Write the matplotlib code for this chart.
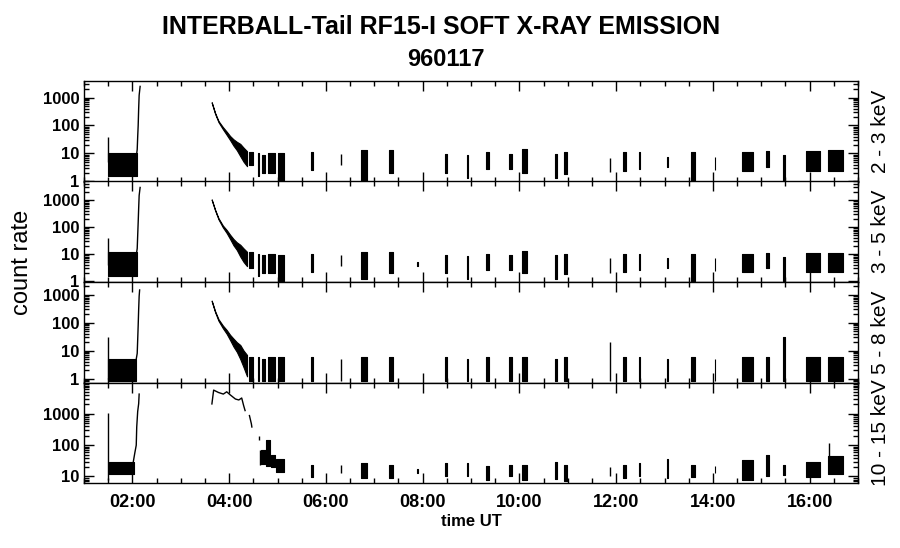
"""
INTERBALL-Tail RF15-I soft X-ray count rate, 960117 — four energy channels.
"""
import matplotlib
matplotlib.use('Agg')
import matplotlib.pyplot as plt
import matplotlib.ticker as mticker

FONT = ['Liberation Sans Narrow', 'Liberation Sans', 'DejaVu Sans']
plt.rcParams['font.family'] = FONT

channels = ['2 - 3 keV', '3 - 5 keV', '5 - 8 keV', '10 - 15 keV']
ylims = [(0.99, 3900), (0.9, 5000), (0.72, 2900), (6.2, 10000)]
ymajor = [[1, 10, 100, 1000], [1, 10, 100, 1000], [1, 10, 100, 1000], [10, 100, 1000]]

# telemetry bursts (hours UT), shared by all channels
burst_t0 = [4.42, 4.60, 4.68, 4.80, 5.00, 5.70, 6.32, 6.73, 7.31, 7.88, 8.47, 8.91, 9.30, 9.78,
            10.05, 10.73, 10.92, 11.88, 12.14, 12.47, 13.05, 13.55, 14.04, 14.60, 15.10,
            15.45, 15.93, 16.38]
burst_t1 = [4.50, 4.61, 4.74, 4.95, 5.14, 5.73, 6.33, 6.84, 7.38, 7.90, 8.50, 8.93, 9.37, 9.84,
            10.16, 10.77, 10.99, 11.89, 12.21, 12.49, 13.07, 13.64, 14.05, 14.83, 15.16,
            15.49, 16.21, 16.70]

# per-channel burst envelopes (None = no data)
p1_lo = [4, 1.5, 2, 2, 1, 2.6, 3.8, 1, 2, None, 2, 1.3, 2.8, 2.8, 2, 1.3, 1.9, 2.1, 2.4, 2.8,
         3.2, 1, 2.6, 2.4, 3.2, 1, 2.4, 2.4]
p1_hi = [11, 10, 9, 10, 10, 11, 9.7, 13, 13, None, 9.4, 8.7, 11, 9.4, 14, 9.4, 11, 7, 11, 11,
         7.4, 11, 7.4, 11, 12, 8.7, 12, 13]
p2_lo = [3, 1.5, 2, 2, 1, 2.2, 3.5, 1.2, 2, 3.5, 2, 1.2, 2.5, 2.5, 2, 1.2, 1.8, 2, 2.2, 2.5,
         3, 1, 2.4, 2.2, 3, 1, 2.2, 2.2]
p2_hi = [12, 10, 9, 10, 9, 10, 9, 12, 12, 5, 9, 8.5, 10, 9, 13, 9, 10, 7, 10, 10,
         7, 10, 7, 10, 11, 8, 11, 11]
p3_lo = [0.8, 0.8, 0.8, 0.8, 0.8, 0.8, 0.8, 0.8, 0.8, None, 0.8, 0.8, 0.8, 0.8, 0.8, 0.8, 0.8,
         0.8, 0.8, 0.8, 0.8, 0.8, 0.8, 0.8, 0.8, 0.8, 0.8, 0.8]
p3_hi = [6, 6, 5, 6, 6, 6, 5, 6, 6, None, 6, 5, 6, 6, 6, 5, 6, 20, 6, 6, 5, 6, 5, 6, 6, 30, 6, 6]
p4_lo = [None, None, None, None, None, 9.5, 13, 9, 9, 13.4, 10, 10.5, 8, 10, 8, 8.3, 7, 10, 9,
         10, 9, 9.5, 13, 8, 10, 11, 9.5, 12]
p4_hi = [None, None, None, None, None, 24, 23, 27, 23, 17, 26, 27, 22, 24, 24, 30, 24, 20, 23,
         26, 37, 24, 22, 34, 48, 23, 30, 45]

# quiet interval before 02:05 (t0, t1, lo, hi) and its first-sample spike (t, lo, hi)
pre_block = [(1.50, 2.09, 1.6, 10), (1.50, 2.09, 1.5, 12), (1.50, 2.08, 0.8, 5), (1.51, 2.03, 12, 30)]
pre_spike = [(1.50, 5, 38), (1.50, 4, 40), (1.50, 1, 30), (1.50, 8, 1100)]

# rise at ~02:05
rise_t = [[2.09, 2.10, 2.11, 2.12, 2.13, 2.14, 2.16],
          [2.09, 2.10, 2.11, 2.12, 2.13, 2.14, 2.16],
          [2.08, 2.10, 2.11, 2.12, 2.13, 2.14, 2.15],
          [2.02, 2.05, 2.08, 2.09, 2.11, 2.13, 2.14]]
rise_v = [[10, 14, 40, 100, 400, 1200, 2500],
          [12, 16, 50, 150, 500, 1500, 3000],
          [5, 8, 25, 80, 300, 900, 1500],
          [30, 56, 100, 380, 1200, 2100, 4270]]

# decay after 03:38 (channels 1-3): time, envelope low, envelope high
decay_t = [3.64, 3.71, 3.78, 3.87, 3.95, 4.02, 4.09, 4.16, 4.23, 4.30, 4.37]
d1_lo = [650, 262, 132, 74, 46, 30, 19, 13, 8, 5, 3.5]
d1_hi = [680, 282, 145, 88, 60, 42, 32, 26, 22, 16, 12]
d2_lo = [1020, 420, 195, 98, 60, 36, 21, 14, 8, 5, 3.5]
d2_hi = [1080, 445, 215, 115, 78, 52, 36, 27, 22, 16, 12]
d3_lo = [590, 240, 118, 64, 40, 24, 14, 9, 5, 2.5, 1.2]
d3_hi = [625, 262, 135, 80, 55, 37, 27, 20, 16, 10, 7]

# channel 4 decay
d4_t = [3.644, 3.68, 3.78, 3.88, 3.95, 4.02, 4.13, 4.20, 4.26, 4.30, 4.33]
d4_v = [2070, 5720, 4800, 4270, 5050, 4060, 2970, 2770, 3200, 1830, 1270]
d4b_t = [4.42, 4.44, 4.46, 4.47]
d4b_v = [880, 650, 480, 380]
d4_bursts = [(4.61, 4.615, 150, 190), (4.63, 4.635, 24, 69), (4.66, 4.76, 25, 70),
             (4.77, 4.84, 22, 150), (4.87, 4.94, 20, 50), (4.97, 5.13, 14, 35),
             (16.40, 16.405, 15, 118)]

burst_lo = [p1_lo, p2_lo, p3_lo, p4_lo]
burst_hi = [p1_hi, p2_hi, p3_hi, p4_hi]
decays = [(decay_t, d1_lo, d1_hi), (decay_t, d2_lo, d2_hi), (decay_t, d3_lo, d3_hi), None]


def draw_box(ax, t0, t1, lo, hi):
    if t1 - t0 < 0.01:
        ax.vlines(t0, lo, hi, color='black', lw=1.0)
    else:
        ax.fill_between([t0, t1], [lo, lo], [hi, hi], color='black', lw=0.8, edgecolor='black')


def main():
    fig = plt.figure(figsize=(9, 5.48), dpi=100)
    W, H = 900.0, 548.0
    x0, x1 = 84, 858
    edges = [81, 181.5, 282, 382.5, 483]

    for i in range(4):
        top, bot = edges[i], edges[i + 1]
        ax = fig.add_axes([x0 / W, 1 - bot / H, (x1 - x0) / W, (bot - top) / H])

        ax.set_yscale('log')
        ax.set_xlim(1, 17)
        ax.set_ylim(*ylims[i])

        # quiet interval + rise
        t0, t1, lo, hi = pre_block[i]
        draw_box(ax, t0, t1, lo, hi)
        ts, lo_s, hi_s = pre_spike[i]
        ax.vlines(ts, lo_s, hi_s, color='black', lw=1.0)
        ax.plot(rise_t[i], rise_v[i], color='black', lw=1.0)

        # decay
        if decays[i] is not None:
            dt, dlo, dhi = decays[i]
            ax.fill_between(dt, dlo, dhi, color='black', lw=0.8, edgecolor='black')
        else:
            ax.plot(d4_t, d4_v, color='black', lw=1.0)
            ax.plot(d4b_t, d4b_v, color='black', lw=1.0)
            for b in d4_bursts:
                draw_box(ax, *b)

        # telemetry bursts
        for t0, t1, lo, hi in zip(burst_t0, burst_t1, burst_lo[i], burst_hi[i]):
            if lo is None:
                continue
            draw_box(ax, t0, t1, lo, hi)

        ax.xaxis.set_major_locator(mticker.MultipleLocator(2))
        ax.xaxis.set_minor_locator(mticker.MultipleLocator(0.5))
        ax.yaxis.set_major_locator(mticker.FixedLocator(ymajor[i]))
        ax.yaxis.set_major_formatter(mticker.FuncFormatter(lambda v, _: f'{v:g}'))
        ax.yaxis.set_minor_locator(mticker.LogLocator(base=10, subs=range(2, 10), numticks=20))
        ax.yaxis.set_minor_formatter(mticker.NullFormatter())
        ax.tick_params(which='both', direction='in', top=True, right=True, width=1.0)
        ax.tick_params(which='major', length=7)
        ax.tick_params(which='minor', length=3.5)
        ax.tick_params(axis='y', labelsize=12)
        for lab in ax.get_yticklabels():
            lab.set_fontweight('bold')
        for sp in ax.spines.values():
            sp.set_linewidth(1.0)

        if i < 3:
            ax.tick_params(axis='x', labelbottom=False)
        else:
            ax.xaxis.set_major_formatter(
                mticker.FuncFormatter(lambda v, _: f'{int(round(v)):02d}:00'))
            ax.tick_params(axis='x', labelsize=13, pad=8)
            for lab in ax.get_xticklabels():
                lab.set_fontweight('bold')

        fig.text(880 / W, 1 - (top + bot) / 2 / H, channels[i], rotation=90,
                 ha='center', va='center', fontsize=15)

    fig.text(0.49, 1 - 27 / H, 'INTERBALL-Tail RF15-I SOFT X-RAY EMISSION',
             ha='center', va='center', fontsize=18, fontweight='bold')
    fig.text(0.495, 1 - 60 / H, '960117', ha='center', va='center',
             fontsize=17, fontweight='bold')
    fig.text(22 / W, 1 - 262 / H, 'count rate', rotation=90, ha='center', va='center',
             fontsize=17)
    fig.text((x0 + x1) / 2 / W, 1 - 522 / H, 'time UT', ha='center', va='center',
             fontsize=12, fontweight='bold')

    fig.savefig('out.png', dpi=100)
    plt.close(fig)


if __name__ == '__main__':
    main()
